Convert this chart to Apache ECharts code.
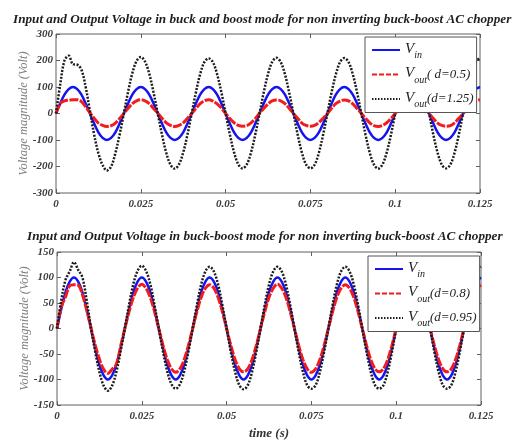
<!DOCTYPE html>
<html>
<head>
<meta charset="utf-8">
<script src="https://cdn.jsdelivr.net/npm/echarts@6/dist/echarts.min.js"></script>
<style>
  html, body { margin: 0; padding: 0; background: #fff; }
  #chart { width: 525px; height: 442px; }
</style>
</head>
<body>
<div id="chart"></div>
<script>
// Sample instants (s), one row per half period of the 50 Hz supply
const timeS = [
  0, 0.00125, 0.0025, 0.00375, 0.005, 0.00625, 0.0075, 0.00875,
  0.01, 0.01125, 0.0125, 0.01375, 0.015, 0.01625, 0.0175, 0.01875,
  0.02, 0.02125, 0.0225, 0.02375, 0.025, 0.02625, 0.0275, 0.02875,
  0.03, 0.03125, 0.0325, 0.03375, 0.035, 0.03625, 0.0375, 0.03875,
  0.04, 0.04125, 0.0425, 0.04375, 0.045, 0.04625, 0.0475, 0.04875,
  0.05, 0.05125, 0.0525, 0.05375, 0.055, 0.05625, 0.0575, 0.05875,
  0.06, 0.06125, 0.0625, 0.06375, 0.065, 0.06625, 0.0675, 0.06875,
  0.07, 0.07125, 0.0725, 0.07375, 0.075, 0.07625, 0.0775, 0.07875,
  0.08, 0.08125, 0.0825, 0.08375, 0.085, 0.08625, 0.0875, 0.08875,
  0.09, 0.09125, 0.0925, 0.09375, 0.095, 0.09625, 0.0975, 0.09875,
  0.1, 0.10125, 0.1025, 0.10375, 0.105, 0.10625, 0.1075, 0.10875,
  0.11, 0.11125, 0.1125, 0.11375, 0.115, 0.11625, 0.1175, 0.11875,
  0.12, 0.12125, 0.1225, 0.12375, 0.125
];

// Upper panel: buck (d = 0.5) and boost (d = 1.25) operation
const vinBuckBoostMode = [
  0, 38, 71, 92, 100, 92, 71, 38,
  0, -38, -71, -92, -100, -92, -71, -38,
  0, 38, 71, 92, 100, 92, 71, 38,
  0, -38, -71, -92, -100, -92, -71, -38,
  0, 38, 71, 92, 100, 92, 71, 38,
  0, -38, -71, -92, -100, -92, -71, -38,
  0, 38, 71, 92, 100, 92, 71, 38,
  0, -38, -71, -92, -100, -92, -71, -38,
  0, 38, 71, 92, 100, 92, 71, 38,
  0, -38, -71, -92, -100, -92, -71, -38,
  0, 38, 71, 92, 100, 92, 71, 38,
  0, -38, -71, -92, -100, -92, -71, -38,
  0, 38, 71, 92, 100
];
const voutD050 = [
  0, 38, 48, 50, 52, 52, 45, 25,
  3, -18, -36, -45, -49, -46, -36, -19,
  0, 20, 37, 48, 52, 48, 37, 19,
  1, -18, -35, -45, -49, -45, -35, -18,
  0, 19, 37, 48, 52, 47, 36, 20,
  0, -19, -35, -45, -48, -46, -35, -19,
  1, 19, 36, 48, 51, 48, 37, 20,
  0, -18, -36, -45, -48, -45, -34, -18,
  0, 20, 37, 47, 51, 48, 36, 19,
  1, -18, -35, -46, -49, -45, -35, -19,
  0, 19, 36, 48, 52, 47, 37, 19,
  0, -19, -36, -45, -48, -46, -35, -18,
  0, 19, 37, 48, 52
];
const voutD125 = [
  0, 110, 200, 218, 186, 184, 165, 100,
  10, -80, -150, -195, -215, -200, -150, -80,
  0, 82, 152, 198, 213, 196, 150, 80,
  0, -80, -148, -193, -208, -192, -147, -80,
  0, 80, 149, 194, 208, 194, 148, 80,
  0, -79, -147, -192, -207, -192, -147, -79,
  0, 80, 149, 195, 210, 194, 148, 79,
  0, -80, -148, -193, -207, -193, -148, -80,
  0, 80, 148, 194, 209, 194, 148, 80,
  0, -80, -148, -193, -208, -192, -147, -80,
  0, 81, 149, 194, 209, 194, 148, 80,
  0, -80, -148, -193, -207, -193, -148, -80,
  0, 80, 149, 195, 210
];

// Lower panel: buck-boost operation (d = 0.8 and d = 0.95)
const vinBuckBoost = [
  0, 38, 71, 92, 100, 92, 71, 38,
  0, -38, -71, -92, -100, -92, -71, -38,
  0, 38, 71, 92, 100, 92, 71, 38,
  0, -38, -71, -92, -100, -92, -71, -38,
  0, 38, 71, 92, 100, 92, 71, 38,
  0, -38, -71, -92, -100, -92, -71, -38,
  0, 38, 71, 92, 100, 92, 71, 38,
  0, -38, -71, -92, -100, -92, -71, -38,
  0, 38, 71, 92, 100, 92, 71, 38,
  0, -38, -71, -92, -100, -92, -71, -38,
  0, 38, 71, 92, 100, 92, 71, 38,
  0, -38, -71, -92, -100, -92, -71, -38,
  0, 38, 71, 92, 100
];
const voutD080 = [
  0, 42, 62, 84, 86, 85, 66, 36,
  2, -32, -60, -80, -88, -80, -70, -35,
  0, 33, 61, 79, 87, 79, 61, 33,
  0, -33, -61, -79, -86, -79, -61, -33,
  0, 33, 61, 79, 86, 79, 61, 33,
  0, -33, -61, -79, -85, -79, -61, -33,
  0, 33, 61, 79, 87, 79, 61, 33,
  0, -33, -61, -79, -86, -79, -61, -33,
  0, 33, 61, 79, 86, 79, 61, 33,
  0, -33, -61, -79, -85, -79, -61, -33,
  0, 33, 61, 79, 86, 79, 61, 33,
  0, -33, -61, -79, -85, -79, -61, -33,
  0, 33, 61, 79, 85
];
const voutD095 = [
  0, 55, 95, 112, 130, 115, 100, 55,
  2, -45, -85, -112, -122, -112, -85, -45,
  0, 47, 87, 113, 123, 113, 87, 46,
  0, -45, -84, -109, -118, -109, -84, -45,
  0, 46, 86, 112, 121, 112, 86, 46,
  0, -46, -85, -111, -119, -111, -85, -46,
  0, 46, 86, 112, 121, 112, 86, 46,
  0, -46, -85, -111, -118, -111, -85, -46,
  0, 46, 86, 112, 121, 112, 86, 46,
  0, -46, -85, -111, -118, -111, -85, -46,
  0, 46, 86, 112, 121, 112, 86, 46,
  0, -46, -85, -111, -118, -111, -85, -46,
  0, 46, 86, 112, 121
];

// Axis ticks
const xTickLabels = ['0', '0.025', '0.05', '0.075', '0.1', '0.125'];
const xTickStep = 0.025;
const yTicksUpper = [-300, -200, -100, 0, 100, 200, 300];
const yTicksLower = [-150, -100, -50, 0, 50, 100, 150];

const titles = [
  'Input and Output Voltage in buck and boost mode for non inverting buck-boost AC chopper',
  'Input and Output Voltage in buck-boost mode for non inverting buck-boost AC chopper'
];
const yAxisTitle = 'Voltage magnitude (Volt)';
const xAxisTitle = 'time (s)';

const SERIF = '"Liberation Serif", "DejaVu Serif", serif';
const BLUE = '#1414f0';
const RED = '#f21c1c';
const BLACK = '#1c1c1c';
const RED_DASH = [9, 1.5];
const BLACK_DOT = [2, 1.5];

const pairs = vals => timeS.map((t, i) => [t, vals[i]]);

const grids = [
  { left: 56, top: 34, width: 424, height: 159, show: true, borderColor: '#606060', borderWidth: 1, backgroundColor: '#fff' },
  { left: 57, top: 252, width: 424, height: 153, show: true, borderColor: '#606060', borderWidth: 1, backgroundColor: '#fff' }
];

const tickLabelStyle = { fontFamily: SERIF, fontStyle: 'italic', fontWeight: 'bold', fontSize: 11, color: '#3a3a3a' };

function xAxisFor(gridIndex, position, labelled, named) {
  return {
    type: 'value', gridIndex, position,
    min: 0, max: 0.125, interval: xTickStep,
    axisLine: { show: false, onZero: false },
    axisTick: { show: true, inside: true, length: 4, lineStyle: { color: '#606060' } },
    splitLine: { show: false },
    axisLabel: {
      show: labelled, margin: 6, ...tickLabelStyle,
      formatter: (v, i) => xTickLabels[i]
    },
    name: named ? xAxisTitle : '',
    nameLocation: 'middle', nameGap: 22, nameMoveOverlap: false,
    nameTextStyle: { fontFamily: SERIF, fontStyle: 'italic', fontWeight: 'bold', fontSize: 13, color: '#333' }
  };
}

function yAxisFor(gridIndex, position, ticks, labelled) {
  return {
    type: 'value', gridIndex, position,
    min: ticks[0], max: ticks[ticks.length - 1], interval: ticks[1] - ticks[0],
    axisLine: { show: false, onZero: false },
    axisTick: { show: true, inside: true, length: 4, lineStyle: { color: '#606060' } },
    splitLine: { show: false },
    axisLabel: { show: labelled, margin: 3, ...tickLabelStyle },
    name: labelled ? yAxisTitle : '',
    nameLocation: 'middle', nameGap: 26, nameRotate: 90, nameMoveOverlap: false,
    nameTextStyle: { fontFamily: SERIF, fontStyle: 'italic', fontSize: 12.5, color: '#7d7d7d' }
  };
}

const legendNames = {
  vinUpper: '{v|V}{s|in}',
  buckOut: '{v|V}{s|out}{p|( d=0.5)}',
  boostOut: '{v|V}{s|out}{p|(d=1.25)}',
  vinLower: '{v|V}{s|in}',
  bbOut080: '{v|V}{s|out}{p|(d=0.8)}',
  bbOut095: '{v|V}{s|out}{p|(d=0.95)}'
};

const legendRich = {
  v: { fontFamily: SERIF, fontStyle: 'italic', fontSize: 15, color: '#222', padding: [0, 0, 2, 0] },
  s: { fontFamily: SERIF, fontStyle: 'italic', fontSize: 10, color: '#222', padding: [11, 0, 0, 0] },
  p: { fontFamily: SERIF, fontStyle: 'italic', fontSize: 13, color: '#222' }
};

// Legend samples: short dashes for the red trace, fine dots for the black one
const legendSample = {
  vinUpper: 'solid', buckOut: [5, 2], boostOut: [1.5, 1.5],
  vinLower: 'solid', bbOut080: [5, 2], bbOut095: [1.5, 1.5]
};

function legendFor(names, left, top) {
  return {
    data: names.map(n => ({ name: n, lineStyle: { type: legendSample[n] } })),
    orient: 'vertical', left, top,
    itemWidth: 28, itemHeight: 12, itemGap: 4,
    padding: [3, 3, 3, 6],
    backgroundColor: '#fff', borderColor: '#555', borderWidth: 1, borderRadius: 0,
    selectedMode: false,
    itemStyle: { color: 'transparent', borderColor: 'transparent', borderWidth: 0, opacity: 0 },
    formatter: n => legendNames[n],
    textStyle: { rich: legendRich, lineHeight: 20 }
  };
}

function lineSeries(name, vals, xi, yi, color, width, type) {
  return {
    name, type: 'line', data: pairs(vals), xAxisIndex: xi, yAxisIndex: yi,
    symbol: 'none', smooth: 0.35, clip: true,
    lineStyle: { color, width, type },
    itemStyle: { color }
  };
}

const titleStyle = { fontFamily: SERIF, fontStyle: 'italic', fontWeight: 'bold', fontSize: 13.2, color: '#1e1e1e' };

const option = {
  animation: false,
  backgroundColor: '#fff',
  title: [
    { text: titles[0], left: 13, top: 13, padding: 0, textStyle: titleStyle },
    { text: titles[1], left: 27, top: 230, padding: 0, textStyle: titleStyle }
  ],
  grid: grids,
  xAxis: [
    xAxisFor(0, 'bottom', true, false),
    xAxisFor(0, 'top', false, false),
    xAxisFor(1, 'bottom', true, true),
    xAxisFor(1, 'top', false, false)
  ],
  yAxis: [
    yAxisFor(0, 'left', yTicksUpper, true),
    yAxisFor(0, 'right', yTicksUpper, false),
    yAxisFor(1, 'left', yTicksLower, true),
    yAxisFor(1, 'right', yTicksLower, false)
  ],
  legend: [
    legendFor(['vinUpper', 'buckOut', 'boostOut'], 365, 37),
    legendFor(['vinLower', 'bbOut080', 'bbOut095'], 368, 256)
  ],
  series: [
    lineSeries('vinUpper', vinBuckBoostMode, 0, 0, BLUE, 2.5, 'solid'),
    lineSeries('buckOut', voutD050, 0, 0, RED, 3, RED_DASH),
    lineSeries('boostOut', voutD125, 0, 0, BLACK, 2.5, BLACK_DOT),
    lineSeries('vinLower', vinBuckBoost, 2, 2, BLUE, 2.5, 'solid'),
    lineSeries('bbOut080', voutD080, 2, 2, RED, 3, RED_DASH),
    lineSeries('bbOut095', voutD095, 2, 2, BLACK, 2.5, BLACK_DOT)
  ]
};

const chart = echarts.init(document.getElementById('chart'), null, { renderer: 'canvas' });
chart.setOption(option);
</script>
</body>
</html>
